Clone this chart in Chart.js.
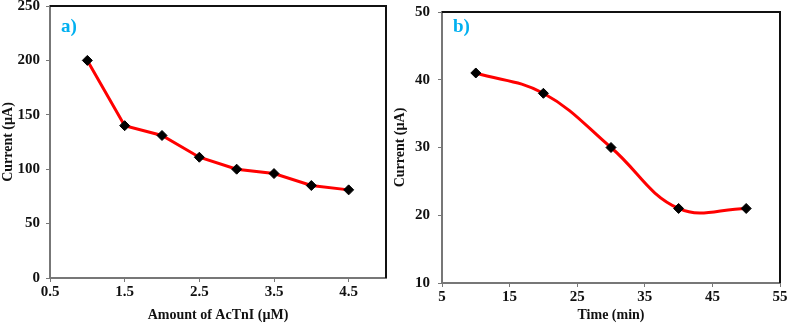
<!DOCTYPE html>
<html>
<head>
<meta charset="utf-8">
<script src="https://cdn.jsdelivr.net/npm/chart.js@4.4.0/dist/chart.umd.min.js"></script>
<style>
  body { margin: 0; background: #fff; }
  .wrap { position: absolute; top: 0; height: 328px; }
  #wa { left: 0; width: 395px; }
  #wb { left: 392px; width: 397px; }
</style>
</head>
<body>
<div class="wrap" id="wa"><canvas id="chart-a"></canvas></div>
<div class="wrap" id="wb"><canvas id="chart-b"></canvas></div>
<script>
// panel a) current vs amount of AcTnI
const amountA = [1, 1.5, 2, 2.5, 3, 3.5, 4, 4.5];
const currentA = [200, 140, 131, 111, 100, 96, 85, 81];
const xTicksA = [0.5, 1.5, 2.5, 3.5, 4.5];
const yTicksA = [0, 50, 100, 150, 200, 250];

// panel b) current vs time
const timeB = [10, 20, 30, 40, 50];
const currentB = [41, 38, 30, 21, 21];
const xTicksB = [5, 15, 25, 35, 45, 55];
const yTicksB = [10, 20, 30, 40, 50];

const serif = 'Liberation Serif, Times New Roman, serif';

const framePlugin = {
    id: 'frame',
    afterDatasetsDraw(chart, args, opts) {
        const { ctx, chartArea: a } = chart;
        ctx.save();
        ctx.strokeStyle = '#111';
        ctx.lineWidth = 2;
        ctx.beginPath();
        ctx.moveTo(a.left, a.top);
        ctx.lineTo(a.right, a.top);
        ctx.lineTo(a.right, a.bottom);
        ctx.stroke();
        ctx.fillStyle = '#00B0F0';
        ctx.font = 'bold 19px ' + serif;
        ctx.textBaseline = 'middle';
        ctx.fillText(opts.label, a.left + 11, opts.y);
        ctx.restore();
    }
};

function makeChart(canvas, xs, ys, xTicks, yTicks, o) {
    const points = xs.map((x, i) => ({ x: x, y: ys[i] }));
    return new Chart(canvas, {
        type: 'line',
        data: {
            datasets: [{
                data: points,
                borderColor: '#ff0000',
                borderWidth: 3,
                tension: o.tension,
                pointStyle: 'rectRot',
                pointRadius: 5,
                pointBackgroundColor: '#000',
                pointBorderColor: '#000',
                pointBorderWidth: 1
            }]
        },
        options: {
            responsive: true,
            maintainAspectRatio: false,
            animation: false,
            layout: { padding: { top: o.top, right: o.right } },
            plugins: {
                legend: { display: false },
                tooltip: { enabled: false },
                frame: { label: o.label, y: o.labelY }
            },
            scales: {
                x: {
                    type: 'linear',
                    min: xTicks[0],
                    max: o.xmax,
                    afterBuildTicks: s => { s.ticks = xTicks.map(v => ({ value: v })); },
                    afterFit: s => { s.height = o.bottom; s.paddingLeft = 0; s.paddingRight = 0; },
                    grid: { display: true, drawOnChartArea: false, tickLength: 4, color: '#777', lineWidth: 1 },
                    border: { color: '#777', width: 2 },
                    ticks: { color: '#111', font: { family: serif, size: 15, weight: 'bold' }, padding: 1 },
                    title: { display: true, text: o.xTitle, color: '#111', font: { family: serif, size: 14, weight: 'bold' }, padding: { top: 1 } }
                },
                y: {
                    min: yTicks[0],
                    max: yTicks[yTicks.length - 1],
                    afterBuildTicks: s => { s.ticks = yTicks.map(v => ({ value: v })); },
                    afterFit: s => { s.width = o.left; s.paddingTop = 0; s.paddingBottom = 0; },
                    grid: { display: true, drawOnChartArea: false, tickLength: 4, color: '#777', lineWidth: 1 },
                    border: { color: '#777', width: 2 },
                    ticks: { color: '#111', font: { family: serif, size: 15, weight: 'bold' }, padding: o.tickPad },
                    title: { display: true, text: 'Current (\u00b5A)', color: '#111', font: { family: serif, size: 14, weight: 'bold' }, padding: { top: 0, bottom: 0 } }
                }
            }
        },
        plugins: [framePlugin]
    });
}

makeChart(document.getElementById('chart-a'), amountA, currentA, xTicksA, yTicksA, {
    xmax: 5, top: 6, right: 9, left: 50, tickPad: 6, bottom: 50, tension: 0,
    xTitle: 'Amount of AcTnI (\u00b5M)', label: 'a)', labelY: 27
});

makeChart(document.getElementById('chart-b'), timeB, currentB, xTicksB, yTicksB, {
    xmax: 55, top: 12, right: 9, left: 50, tickPad: 8, bottom: 45, tension: 0.4,
    xTitle: 'Time (min)', label: 'b)', labelY: 27
});
</script>
</body>
</html>
